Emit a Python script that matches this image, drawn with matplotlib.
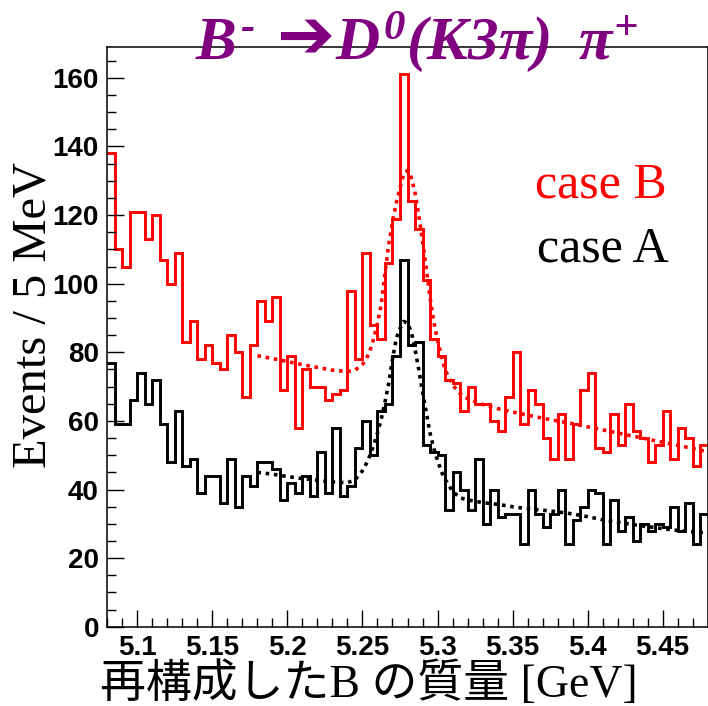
import numpy as np
import matplotlib
matplotlib.use('Agg')
import matplotlib.pyplot as plt
from matplotlib.ticker import MultipleLocator, FuncFormatter

plt.rcParams['font.family'] = 'Liberation Sans'
plt.rcParams['font.weight'] = 'bold'
plt.rcParams['mathtext.fontset'] = 'custom'
plt.rcParams['mathtext.rm'] = 'Liberation Serif:bold:italic'
plt.rcParams['mathtext.it'] = 'Liberation Serif:bold:italic'
plt.rcParams['mathtext.bf'] = 'Liberation Serif:bold:italic'

# 5 MeV bins, 5.08 - 5.48 GeV
m_lo = 5.08
m_hi = 5.48

case_b = [138, 110, 105, 121, 121, 113, 120, 107, 100, 109,
          83, 89, 78, 82, 77, 75, 85, 80, 67, 82,
          95, 89, 96, 69, 79, 58, 75, 70, 70, 66,
          68, 69, 98, 78, 109, 88, 84, 106, 119, 161,
          124, 116, 101, 84, 79, 72, 71, 63, 70, 65,
          65, 60, 57, 67, 80, 59, 69, 65, 55, 49,
          62, 49, 59, 69, 74, 52, 51, 62, 53, 65,
          57, 55, 48, 53, 63, 49, 58, 55, 47, 53]

case_a = [77, 59, 59, 66, 74, 65, 72, 59, 48, 63,
          47, 49, 39, 44, 44, 36, 49, 35, 44, 41,
          48, 48, 46, 37, 42, 39, 44, 38, 51, 39,
          58, 38, 41, 52, 60, 50, 63, 65, 79, 107,
          82, 83, 53, 51, 50, 34, 45, 40, 34, 49,
          30, 40, 32, 33, 33, 24, 40, 33, 29, 33,
          40, 24, 31, 35, 40, 39, 24, 37, 28, 32,
          25, 30, 28, 30, 29, 35, 28, 36, 24, 33]

# fitted curves (signal + background)
fit_x = [5.18, 5.19, 5.20, 5.21, 5.22, 5.23, 5.24, 5.245, 5.25, 5.2525,
         5.255, 5.2575, 5.26, 5.2625, 5.265, 5.2675, 5.27, 5.2725, 5.275, 5.2775,
         5.28, 5.2825, 5.285, 5.2875, 5.29, 5.2925, 5.295, 5.2975, 5.30, 5.3025,
         5.305, 5.31, 5.315, 5.32, 5.33, 5.34, 5.35, 5.36, 5.37, 5.38,
         5.39, 5.40, 5.41, 5.42, 5.43, 5.44, 5.45, 5.46, 5.47, 5.48]
fit_b = [79.0, 78.2, 77.3, 76.4, 75.6, 74.8, 74.4, 74.8, 76.5, 78.0,
         80.5, 84.0, 88.5, 94.0, 103.0, 111.5, 118.0, 123.5, 128.0, 132.0,
         133.0, 131.0, 126.5, 120.0, 112.5, 104.5, 96.0, 89.0, 83.5, 79.0,
         75.0, 70.5, 68.0, 66.5, 64.8, 63.6, 62.6, 61.7, 60.8, 60.0,
         59.2, 58.3, 57.4, 56.5, 55.6, 54.7, 53.8, 52.9, 52.0, 51.0]
fit_a = [45.0, 44.5, 43.8, 43.2, 42.7, 42.2, 42.0, 42.8, 45.5, 47.5,
         50.0, 53.0, 56.5, 60.5, 65.5, 71.0, 78.0, 84.0, 87.0, 89.0,
         88.5, 86.0, 81.0, 75.0, 68.5, 62.5, 56.5, 52.0, 48.5, 45.3,
         43.0, 39.5, 37.6, 37.0, 36.2, 35.7, 35.0, 34.4, 34.0, 33.5,
         32.9, 32.1, 31.2, 30.5, 29.8, 29.2, 28.6, 28.1, 27.7, 27.3]

edges = np.linspace(m_lo, m_hi, len(case_b) + 1)

W, H = 708, 706
fig = plt.figure(figsize=(W / 100, H / 100), dpi=100)
ax = fig.add_axes([107.3 / W, 1 - 626.8 / H, 600.4 / W, (626.8 - 47) / H])

ax.stairs(case_b, edges, baseline=None, color='red', lw=2.1)
ax.stairs(case_a, edges, baseline=None, color='black', lw=2.1)
ax.plot(fit_x, fit_b, color='red', lw=2.6, ls=(0, (1, 1.3)))
ax.plot(fit_x, fit_a, color='black', lw=2.6, ls=(0, (1, 1.3)))

ax.set_xlim(m_lo, m_hi)
ax.set_ylim(0, 169)

ax.xaxis.set_major_locator(MultipleLocator(0.05))
ax.xaxis.set_minor_locator(MultipleLocator(0.01))
ax.yaxis.set_major_locator(MultipleLocator(20))
ax.yaxis.set_minor_locator(MultipleLocator(5))
ax.xaxis.set_major_formatter(FuncFormatter(lambda v, p: f'{v:g}'))

ax.tick_params(which='both', direction='in', top=False, right=False,
               width=1, colors='black', labelsize=20)
ax.tick_params(which='major', length=12.5, pad=6)
ax.tick_params(which='minor', length=6.5)
for s in ax.spines.values():
    s.set_linewidth(1.1)

fig.text(34 / W, 1 - 315 / H, 'Events / 5 MeV', rotation=90,
         family='Liberation Serif', weight='normal', size=35,
         ha='center', va='center')
fig.text(368.5 / W, 1 - 685 / H, '再構成したB の質量 [GeV]',
         family=['Liberation Serif', 'Noto Sans CJK JP'], weight='normal',
         size=33, ha='center', va='center')

# decay title, heavy arrow drawn as its own glyph
purple = '#800080'
fig.text(195 / W, 1 - 59 / H, r'$B^{‐}$', color=purple, size=44,
         ha='left', va='baseline')
fig.text(305 / W, 1 - 38 / H, '➔', color=purple, size=50,
         family='DejaVu Sans', ha='center', va='center')
fig.text(335 / W, 1 - 59 / H, r'$D^{0}(K3\pi)\;\;\pi^{+}$', color=purple,
         size=44, ha='left', va='baseline')

fig.text(535 / W, 1 - 198 / H, 'case B', color='red',
         family='Liberation Serif', weight='normal', size=36, va='baseline')
fig.text(537 / W, 1 - 262 / H, 'case A', color='black',
         family='Liberation Serif', weight='normal', size=36, va='baseline')

fig.savefig('out.png', dpi=100)
